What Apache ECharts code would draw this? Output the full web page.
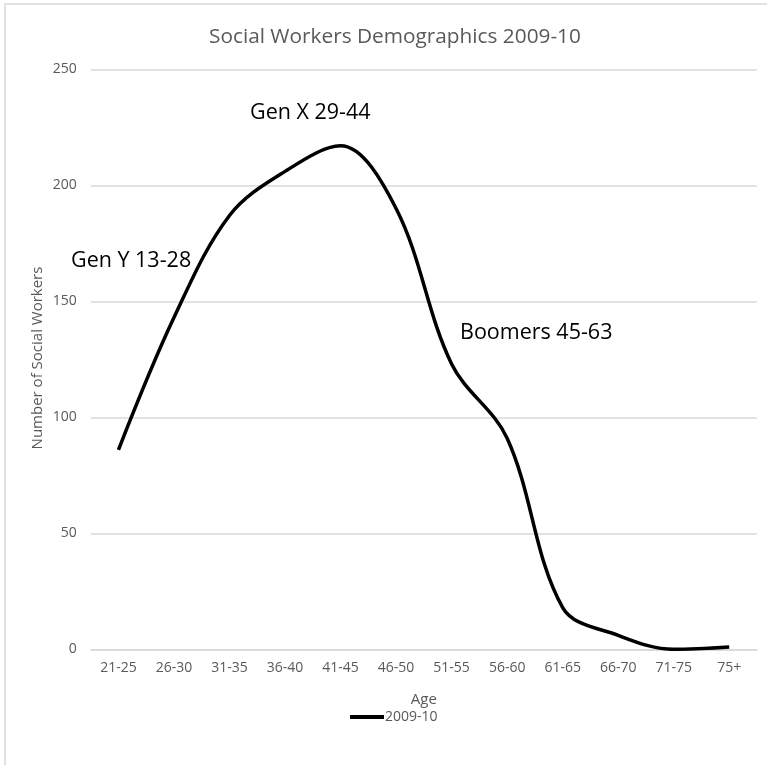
<!DOCTYPE html>
<html>
<head>
<meta charset="utf-8">
<script src="https://cdn.jsdelivr.net/npm/echarts@6/dist/echarts.min.js"></script>
<style>
  html, body { margin: 0; padding: 0; background: #ffffff; }
  #chart { width: 767px; height: 765px; }
</style>
</head>
<body>
<div id="chart"></div>
<script>
// Age bands and head counts of social workers, 2009-10
var ageBands = ['21-25', '26-30', '31-35', '36-40', '41-45', '46-50', '51-55', '56-60', '61-65', '66-70', '71-75', '75+'];
var workers = [86, 143, 187, 206, 217, 190, 123, 91, 18, 6, 0, 1];
var yTicks = { min: 0, max: 250, interval: 50 };
var seriesName = '2009-10';
var yTitle = 'Number of Social Workers';

var font = '"Open Sans", "Liberation Sans", sans-serif';
var grey = '#595959';

var chart = echarts.init(document.getElementById('chart'), null, { renderer: 'canvas' });
chart.setOption({
  animation: false,
  backgroundColor: '#ffffff',
  title: {
    text: 'Social Workers Demographics 2009-10',
    left: 204,
    top: 22,
    textStyle: { fontFamily: font, fontSize: 20.8, fontWeight: 'normal', color: grey }
  },
  grid: { left: 90.7, right: 10, top: 69.3, bottom: 115.7, containLabel: false },
  legend: {
    data: [seriesName],
    bottom: 36,
    left: 345,
    itemWidth: 34,
    itemHeight: 4,
    itemGap: 0,
    icon: 'rect',
    textStyle: { fontFamily: font, fontSize: 14, color: grey, padding: [0, 0, 0, -4] }
  },
  xAxis: {
    type: 'category',
    data: ageBands,
    boundaryGap: true,
    name: 'Age',
    nameLocation: 'middle',
    nameGap: 43,
    nameTextStyle: { fontFamily: font, fontSize: 15, color: grey },
    axisLine: { show: true, lineStyle: { color: '#d9d9d9', width: 1.5 } },
    axisTick: { show: false },
    axisLabel: { fontFamily: font, fontSize: 14, color: grey, margin: 12 }
  },
  yAxis: {
    type: 'value',
    min: yTicks.min,
    max: yTicks.max,
    interval: yTicks.interval,
    axisLine: { show: false },
    axisTick: { show: false },
    axisLabel: { fontFamily: font, fontSize: 14, color: grey, margin: 14 },
    splitLine: { lineStyle: { color: '#d9d9d9', width: 1.5 } }
  },
  series: [{
    name: seriesName,
    type: 'line',
    data: workers,
    smooth: 0.35,
    showSymbol: false,
    symbol: 'none',
    lineStyle: { color: '#000000', width: 3.5 },
    itemStyle: { color: '#000000' }
  }],
  graphic: [
    {
      type: 'rect',
      silent: true,
      shape: { x: 5, y: 4, width: 800, height: 800 },
      style: { fill: 'none', stroke: '#d9d9d9', lineWidth: 1.5 }
    },
    {
      // vertical axis title
      type: 'text',
      x: 38, y: 358,
      rotation: Math.PI / 2,
      style: { text: yTitle, font: '15px ' + font, fill: grey, align: 'center', verticalAlign: 'middle' }
    },
    {
      type: 'text', left: 250, top: 102,
      style: { text: 'Gen X 29-44', font: '21.5px ' + font, fill: '#000000' }
    },
    {
      type: 'text', left: 71, top: 250,
      style: { text: 'Gen Y 13-28', font: '21.5px ' + font, fill: '#000000' }
    },
    {
      type: 'text', left: 460, top: 322,
      style: { text: 'Boomers 45-63', font: '21.5px ' + font, fill: '#000000' }
    }
  ]
});
</script>
</body>
</html>
